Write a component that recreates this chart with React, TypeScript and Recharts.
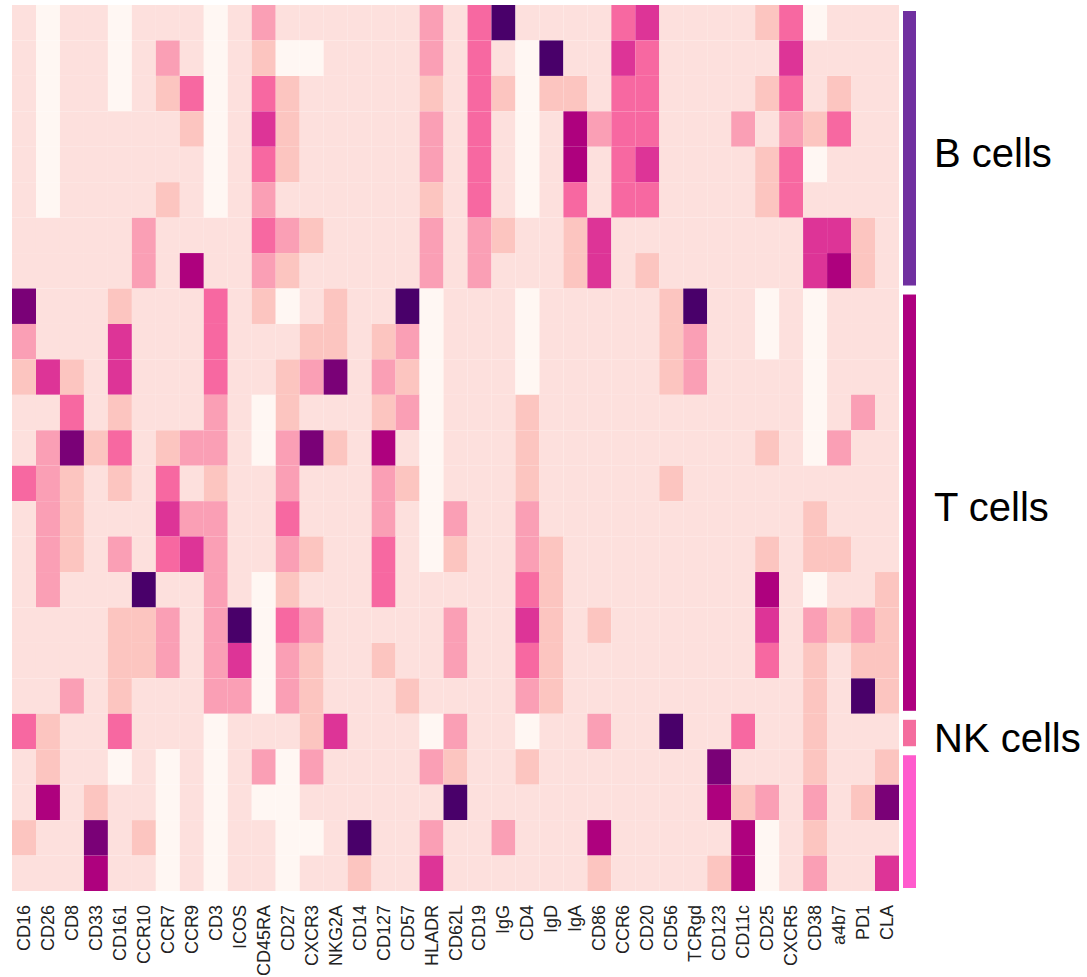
import React from 'react';
import { BarChart, Bar, XAxis, YAxis, Cell, LabelList } from 'recharts';

// RdPu 9-level palette (level 0 = lowest, 8 = highest)
const palette = ['#fff7f3', '#fde0dd', '#fcc5c0', '#fa9fb5', '#f768a1', '#dd3497', '#ae017e', '#7a0177', '#49006a'];

const markers = ['CD16', 'CD26', 'CD8', 'CD33', 'CD161', 'CCR10', 'CCR7', 'CCR9', 'CD3', 'ICOS', 'CD45RA', 'CD27', 'CXCR3', 'NKG2A', 'CD14', 'CD127', 'CD57', 'HLADR', 'CD62L', 'CD19', 'IgG', 'CD4', 'IgD', 'IgA', 'CD86', 'CCR6', 'CD20', 'CD56', 'TCRgd', 'CD123', 'CD11c', 'CD25', 'CXCR5', 'CD38', 'a4b7', 'PD1', 'CLA'];

// one row per cluster (top to bottom), one value per marker (left to right)
const levels: number[][] = [
  [1,0,1,1,0,1,1,1,0,1, 3,1,1,1,1,1,1,3,1,4, 8,1,1,1,1,4,5,1,1,1, 1,2,4,0,1,1,1],
  [1,0,1,1,0,1,3,1,0,1, 2,0,0,1,1,1,1,3,1,4, 1,0,8,1,1,5,4,1,1,1, 1,1,5,1,1,1,1],
  [1,0,1,1,0,1,2,4,0,1, 4,2,1,1,1,1,1,2,1,4, 2,0,2,2,1,4,4,1,1,1, 1,2,4,1,2,1,1],
  [1,0,1,1,1,1,1,2,0,1, 5,2,1,1,1,1,1,3,1,4, 1,0,1,6,3,4,4,1,1,1, 3,1,3,2,4,1,1],
  [1,0,1,1,1,1,1,1,0,1, 4,2,1,1,1,1,1,3,1,4, 1,0,1,6,1,4,5,1,1,1, 1,2,4,0,1,1,1],
  [1,0,1,1,1,1,2,1,0,1, 3,1,1,1,1,1,1,2,1,4, 1,0,1,4,1,4,4,1,1,1, 1,2,4,1,1,1,1],
  [1,1,1,1,1,3,1,1,1,1, 4,3,2,1,1,1,1,3,1,3, 2,1,1,2,5,1,1,1,1,1, 1,1,1,5,5,2,1],
  [1,1,1,1,1,3,1,6,1,1, 3,2,1,1,1,1,1,3,1,3, 1,1,1,2,5,1,2,1,1,1, 1,1,1,5,6,2,1],
  [7,1,1,1,2,1,1,1,4,1, 2,0,1,2,1,1,8,0,1,1, 1,0,1,1,1,1,1,2,8,1, 1,0,1,0,1,1,1],
  [3,1,1,1,5,1,1,1,4,1, 1,1,2,2,1,2,3,0,1,1, 1,0,1,1,1,1,1,2,3,1, 1,0,1,0,1,1,1],
  [2,5,2,1,5,1,1,1,4,1, 1,2,3,7,1,3,2,0,1,1, 1,0,1,1,1,1,1,2,3,1, 1,1,1,0,1,1,1],
  [1,1,4,1,2,1,1,1,3,1, 0,2,1,1,1,2,3,0,1,1, 1,2,1,1,1,1,1,1,1,1, 1,1,1,0,1,3,1],
  [1,3,7,2,4,1,2,3,3,1, 0,3,7,2,1,6,1,0,1,1, 1,2,1,1,1,1,1,1,1,1, 1,2,1,0,3,1,1],
  [4,3,2,1,2,1,4,1,2,1, 1,3,1,1,1,3,2,0,1,1, 1,2,1,1,1,1,1,2,1,1, 1,1,1,1,1,1,1],
  [1,3,2,1,1,1,5,3,3,1, 1,4,1,1,1,3,1,0,3,1, 1,3,1,1,1,1,1,1,1,1, 1,1,1,2,1,1,1],
  [1,3,2,1,3,1,4,5,3,1, 1,3,2,1,1,4,1,0,2,1, 1,3,2,1,1,1,1,1,1,1, 1,2,1,2,2,1,1],
  [1,3,1,1,1,8,1,1,3,1, 0,2,1,1,1,4,1,1,1,1, 1,4,2,1,1,1,1,1,1,1, 1,6,1,0,1,1,2],
  [1,1,1,1,2,2,3,1,3,8, 0,4,3,1,1,1,1,1,3,1, 1,5,2,1,2,1,1,1,1,1, 1,5,1,3,2,3,2],
  [1,1,1,1,2,2,3,1,3,5, 0,3,2,1,1,2,1,1,3,1, 1,4,2,1,1,1,1,1,1,1, 1,4,1,2,1,2,2],
  [1,1,3,1,2,1,1,1,3,3, 0,3,2,1,1,1,2,1,1,1, 1,3,2,1,1,1,1,1,1,1, 1,1,1,2,1,8,2],
  [4,2,1,1,4,1,1,1,0,1, 1,1,2,5,1,1,1,0,3,1, 1,0,1,1,3,1,1,8,1,1, 4,1,1,2,1,1,1],
  [1,2,1,1,0,1,0,1,0,1, 3,0,3,1,1,1,1,3,2,1, 1,2,1,1,1,1,1,1,1,7, 1,1,1,2,1,1,2],
  [1,6,1,2,1,1,0,1,0,1, 0,0,1,1,1,1,1,1,8,1, 1,1,1,1,1,1,1,1,1,6, 2,3,1,3,1,2,7],
  [2,1,1,7,1,2,0,1,0,1, 1,0,0,1,8,1,1,3,1,1, 3,1,1,1,6,1,1,1,1,1, 6,0,1,2,1,1,1],
  [1,1,1,6,1,1,0,1,0,1, 1,0,1,1,2,1,1,5,1,1, 1,1,1,1,2,1,1,1,1,2, 6,0,1,3,1,1,5],
];

const groupNames = ['B cells', 'T cells', 'NK cells', ''];
const groupSizes = [8, 12, 1, 4];
const groupColors = ['#7030a0', '#ae007f', '#f46d9e', '#ff5bcd'];

const rowCount = levels.length;
const rowKeys = levels.map((_, i) => `r${i}`);
const heatData = markers.map((m) => {
  const o: any = { marker: m };
  rowKeys.forEach((k) => { o[k] = 1; });
  return o;
});
const groupData = [
  groupSizes.reduce((o: any, s, i) => { o[`g${i}`] = s; return o; }, { name: 'groups' }),
];

const MarkerTick = (props: any) => {
  const { x, y, payload } = props;
  return (
    <text
      transform={`translate(${x},${y + 14}) rotate(-90)`}
      textAnchor="end"
      dominantBaseline="central"
      fontFamily="'Liberation Sans', Arial, sans-serif"
      fontSize={18}
      fill="#222"
    >
      {payload.value}
    </text>
  );
};

const GroupShape = (props: any) => {
  const { x, width, fill } = props;
  let y = Number(props.y);
  let h = Number(props.height);
  if (h < 0) { y = y + h; h = -h; }
  return <rect x={x} y={y + 6} width={width} height={Math.max(0, h - 9)} fill={fill} />;
};

const makeGroupLabel = (name: string) => (p: any) => {
  const vb = p.viewBox || p;
  const x = vb.x ?? p.x;
  const y = vb.y ?? p.y;
  const w = vb.width ?? p.width;
  const h = vb.height ?? p.height;
  if (!name) return null;
  return (
    <text
      x={x + w + 18}
      y={y + h / 2 + 6}
      dominantBaseline="central"
      fontFamily="'Liberation Sans', Arial, sans-serif"
      fontSize={40}
      fill="#000"
    >
      {name}
    </text>
  );
};

export default function App() {
  return (
    <div style={{ position: 'absolute', left: 0, top: 0, width: 1087, height: 977, background: '#fff' }}>
      <div style={{ position: 'absolute', left: 0, top: 0 }}>
        <BarChart
          width={1087}
          height={977}
          data={heatData}
          margin={{ top: 5, right: 188, bottom: 6, left: 12 }}
          barCategoryGap={0}
          barGap={0}
        >
          <XAxis
            dataKey="marker"
            interval={0}
            tickLine={false}
            axisLine={false}
            tickSize={0}
            tickMargin={0}
            height={80}
            tick={<MarkerTick />}
          />
          <YAxis hide type="number" domain={[0, rowCount]} reversed allowDataOverflow />
          {rowKeys.map((k, ri) => (
            <Bar key={k} dataKey={k} stackId="heat" isAnimationActive={false}>
              {markers.map((m, ci) => (
                <Cell key={m} fill={palette[levels[ri][ci]]} />
              ))}
            </Bar>
          ))}
        </BarChart>
      </div>
      <div style={{ position: 'absolute', left: 890, top: 0 }}>
        <BarChart
          width={197}
          height={977}
          data={groupData}
          margin={{ top: 5, right: 171, bottom: 86, left: 13 }}
          barCategoryGap={0}
          barGap={0}
        >
          <XAxis hide dataKey="name" />
          <YAxis hide type="number" domain={[0, rowCount]} reversed allowDataOverflow />
          {groupSizes.map((s, gi) => (
            <Bar
              key={gi}
              dataKey={`g${gi}`}
              stackId="grp"
              fill={groupColors[gi]}
              shape={(p: any) => <GroupShape {...p} fill={groupColors[gi]} />}
              isAnimationActive={false}
            >
              <LabelList content={makeGroupLabel(groupNames[gi])} />
            </Bar>
          ))}
        </BarChart>
      </div>
    </div>
  );
}
